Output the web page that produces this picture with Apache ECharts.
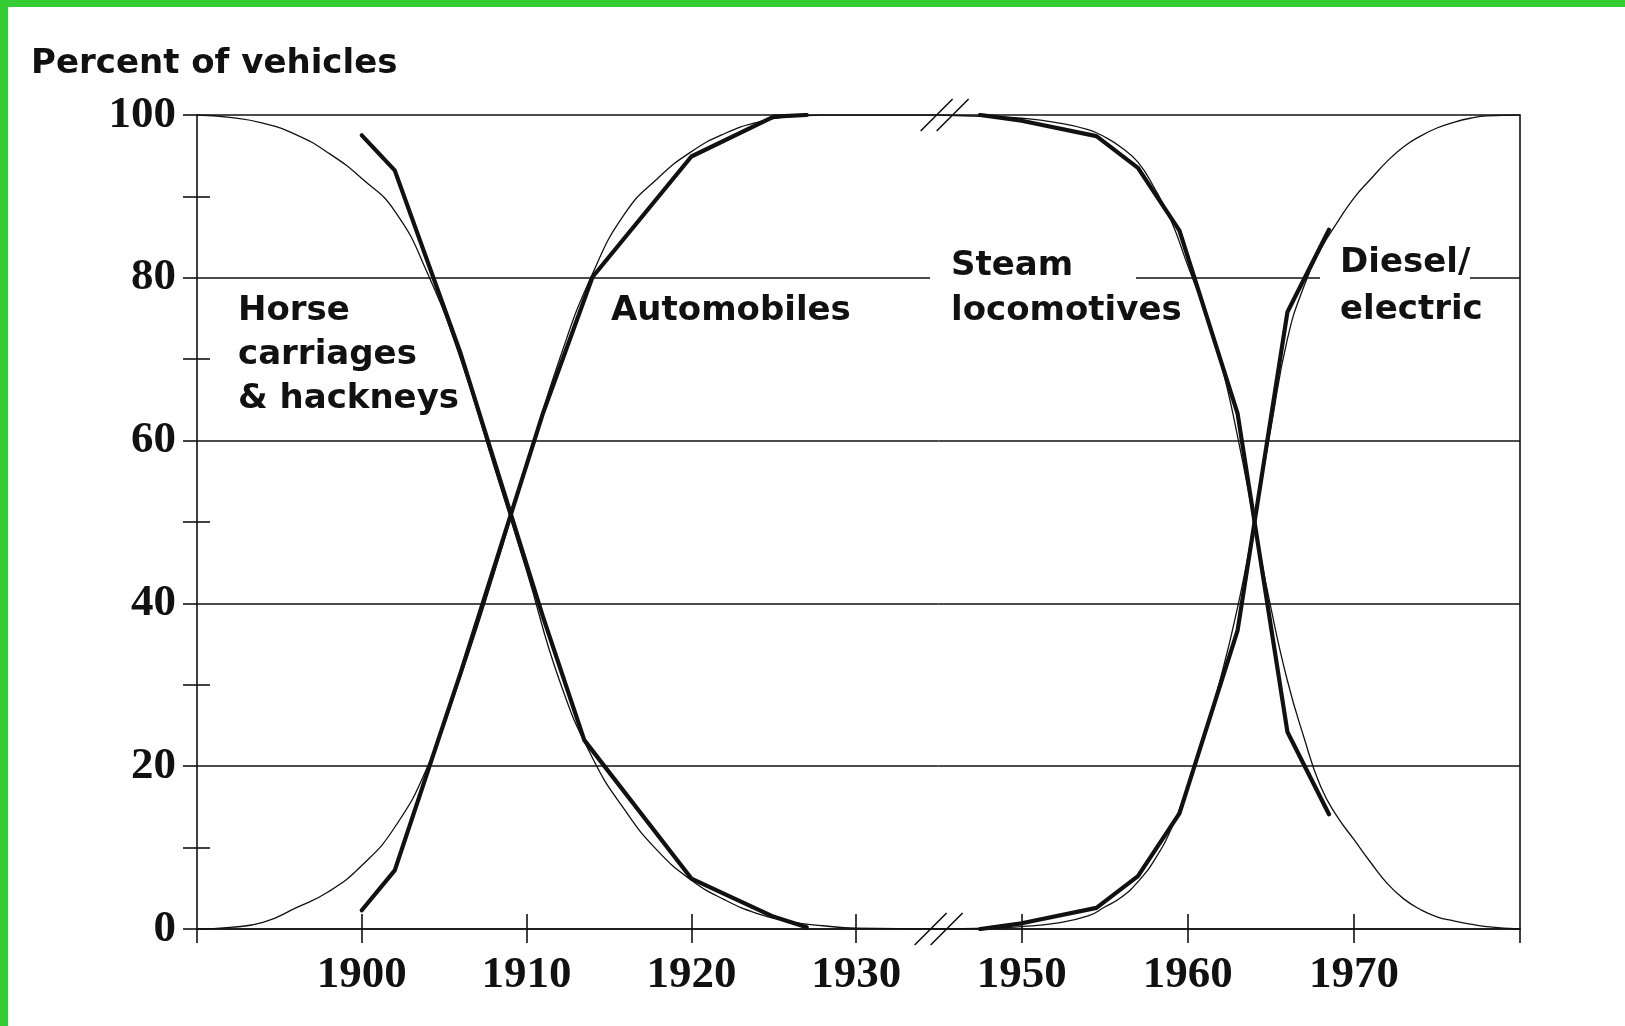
<!DOCTYPE html>
<html>
<head>
<meta charset="utf-8">
<title>Percent of vehicles</title>
<script src="https://cdn.jsdelivr.net/npm/echarts@6.0.0/dist/echarts.min.js"></script>
<style>
  html, body { margin: 0; padding: 0; background: #fff; }
  #wrap { position: relative; width: 1625px; height: 1026px; }
  #chart { position: absolute; left: 0; top: 0; width: 1625px; height: 1026px; }
  .frame { position: absolute; background: #33cc33; }
</style>
</head>
<body>
<div id="wrap">
  <div id="chart"></div>
  <div class="frame" style="left:0;top:0;width:1625px;height:7px;"></div>
  <div class="frame" style="left:0;top:0;width:8px;height:1026px;"></div>
</div>
<script>
// road: horse carriages vs automobiles (thick = observed, thin = fitted curve)
const horseYears = [1900, 1902, 1906, 1911, 1913.5, 1920, 1925, 1927];
const horseShare = [97.5, 93.2, 70.7, 38.3, 23.2, 6.2, 1.5, 0.2];
const autoYears = [1900, 1902, 1906, 1911, 1914, 1920, 1925, 1927];
const autoShare = [2.3, 7.2, 31.5, 63.4, 80.1, 94.9, 99.8, 100];

const roadFitYears = [1890, 1892, 1894, 1896, 1898, 1900, 1902, 1904, 1906, 1908, 1910,
  1912, 1914, 1916, 1918, 1920, 1922, 1924, 1926, 1928, 1930, 1935];
const horseFit = [100, 99.7, 99.0, 97.6, 95.3, 92.2, 88.2, 80.5, 70, 57, 44,
  30.5, 21, 14.5, 9.5, 6.0, 3.6, 1.9, 0.9, 0.4, 0.1, 0];
const autoFit = [0, 0.2, 0.8, 2.6, 4.6, 7.8, 12.5, 20, 31, 43.5, 57,
  70, 80.5, 88, 92.3, 95.5, 97.7, 99.1, 99.8, 100, 100, 100];

// rail: steam vs diesel/electric locomotives
const railYears = [1947.5, 1950, 1954.5, 1957, 1959.5, 1963, 1966, 1968.5];
const steamShare = [100, 99.3, 97.4, 93.5, 85.8, 63.3, 24.2, 14.1];
const dieselShare = [0, 0.7, 2.6, 6.5, 14.2, 36.7, 75.8, 85.9];

const railFitYears = [1945, 1948, 1950, 1952, 1954, 1955, 1956, 1957, 1958, 1959, 1960,
  1961, 1962, 1963, 1964, 1965, 1966, 1967, 1968, 1969, 1970, 1971, 1972, 1973,
  1974, 1975, 1976, 1977, 1978, 1980];
const steamFit = [100, 99.8, 99.6, 99.1, 98.2, 97.3, 96.0, 94.2, 91.0, 87.0, 81.5,
  76, 69.5, 60.5, 50, 39.5, 30.5, 23.5, 17.5, 13.8, 11.0, 8.2, 5.6, 3.7,
  2.4, 1.5, 1.0, 0.6, 0.3, 0];
const dieselFit = [0, 0.1, 0.3, 0.7, 1.6, 2.7, 3.9, 5.8, 8.5, 12.3, 17.5,
  24, 31, 39.5, 50, 61.5, 72.5, 79, 83.5, 86.8, 89.8, 92.1, 94.3, 96.1,
  97.4, 98.4, 99.1, 99.6, 99.9, 100];

// axes
const yMinorTicks = [10, 30, 50, 70, 90];
const leftYearTicks = [1890, 1900, 1910, 1920, 1930];
const leftYearLabels = [1900, 1910, 1920, 1930];
const rightYearTicks = [1950, 1960, 1970, 1980];
const rightYearLabels = [1950, 1960, 1970];
const breakMarks = [[1935, 0], [1935, 100]];

const INK = '#111';
const pairs = (xs, ys) => xs.map((x, i) => [x, ys[i]]);
const labelFont = { color: INK, fontFamily: 'Liberation Serif', fontWeight: 'bold', fontSize: 45 };
const axisLine = { color: INK, width: 1.6 };

function curve(xs, ys, side, heavy) {
  return {
    type: 'line',
    xAxisIndex: side, yAxisIndex: side ? 3 : 0,
    data: pairs(xs, ys),
    symbol: 'none',
    smooth: heavy ? false : 0.5,
    silent: true,
    z: heavy ? 4 : 3,
    lineStyle: { color: INK, width: heavy ? 4.2 : 1.3, cap: 'round', join: 'round' }
  };
}

function yearAxis(grid, min, max, ticks, labels) {
  return {
    type: 'value', gridIndex: grid, position: 'bottom', min: min, max: max,
    axisLine: { show: true, onZero: false, lineStyle: axisLine },
    axisTick: { show: true, length: 14, customValues: ticks, lineStyle: axisLine },
    axisLabel: Object.assign({ margin: 24, customValues: labels, formatter: v => String(v) }, labelFont),
    splitLine: { show: false }
  };
}

function innerTicks(grid, min, max, ticks) {
  return {
    type: 'value', gridIndex: grid, position: 'bottom', min: min, max: max,
    axisLine: { show: false },
    axisTick: { show: true, inside: true, length: 15, customValues: ticks, lineStyle: axisLine },
    axisLabel: { show: false },
    splitLine: { show: false }
  };
}

function minorTicks(inside, len) {
  return {
    type: 'value', gridIndex: 0, position: 'left', min: 0, max: 100,
    axisLine: { show: false },
    axisTick: { show: true, inside: inside, length: len, customValues: yMinorTicks, lineStyle: axisLine },
    axisLabel: { show: false },
    splitLine: { show: false }
  };
}

const chart = echarts.init(document.getElementById('chart'));

const option = {
  animation: false,
  backgroundColor: '#fff',
  grid: [
    { left: 197, top: 115, width: 741.6, bottom: 97, containLabel: false, outerBoundsMode: 'none' },
    { left: 938.6, top: 115, right: 105, bottom: 97, containLabel: false, outerBoundsMode: 'none' }
  ],
  xAxis: [
    yearAxis(0, 1890, 1935, leftYearTicks, leftYearLabels),
    yearAxis(1, 1945, 1980, rightYearTicks, rightYearLabels),
    innerTicks(0, 1890, 1935, leftYearLabels),
    innerTicks(1, 1945, 1980, rightYearLabels)
  ],
  yAxis: [
    {
      type: 'value', gridIndex: 0, position: 'left', min: 0, max: 100, interval: 20,
      axisLine: { show: true, onZero: false, lineStyle: axisLine },
      axisTick: { show: true, length: 14, lineStyle: axisLine },
      axisLabel: Object.assign({ margin: 21 }, labelFont),
      splitLine: { show: true, lineStyle: axisLine }
    },
    minorTicks(false, 14),
    minorTicks(true, 13),
    {
      type: 'value', gridIndex: 1, position: 'right', min: 0, max: 100, interval: 20,
      axisLine: { show: true, onZero: false, lineStyle: axisLine },
      axisTick: { show: false },
      axisLabel: { show: false },
      splitLine: { show: true, lineStyle: axisLine }
    }
  ],
  series: [
    curve(roadFitYears, horseFit, 0, false),
    curve(roadFitYears, autoFit, 0, false),
    curve(horseYears, horseShare, 0, true),
    curve(autoYears, autoShare, 0, true),
    curve(railFitYears, steamFit, 1, false),
    curve(railFitYears, dieselFit, 1, false),
    curve(railYears, steamShare, 1, true),
    curve(railYears, dieselShare, 1, true),
    {
      // "//" axis-break marks
      type: 'custom', xAxisIndex: 0, yAxisIndex: 0, data: breakMarks,
      clip: false, silent: true, z: 6,
      renderItem: function (params, api) {
        const p = api.coord([api.value(0), api.value(1)]);
        const shift = api.value(1) > 50 ? 6 : 0;
        return {
          type: 'group',
          children: [-8, 8].map(function (dx) {
            const cx = p[0] + dx + shift;
            return {
              type: 'line',
              shape: { x1: cx - 16, y1: p[1] + 16, x2: cx + 16, y2: p[1] - 16 },
              style: { stroke: INK, lineWidth: 1.6 }
            };
          })
        };
      }
    }
  ]
};

chart.setOption(option);

// text annotations, placed against the 80% line
const y80 = chart.convertToPixel({ yAxisIndex: 0 }, 80);
const bold = 'bold 34px "DejaVu Sans"';
function txt(x, baseline, s, font) {
  return { type: 'text', z: 7, silent: true,
    style: { x: x, y: baseline - 10, text: s, font: font || bold, fill: INK, textVerticalAlign: 'middle' } };
}
function gap(x1, x2) {
  return { type: 'rect', z: 1, silent: true, shape: { x: x1, y: y80 - 5, width: x2 - x1, height: 10 },
    style: { fill: '#fff' } };
}
chart.setOption({
  graphic: [
    gap(930, 1136),
    gap(1320, 1470),
    txt(31, 74, 'Percent of vehicles', 'bold 34px "DejaVu Sans"'),
    txt(238, 321, 'Horse'),
    txt(238, 365, 'carriages'),
    txt(238, 409, '& hackneys'),
    txt(611, 321, 'Automobiles'),
    txt(951, 276, 'Steam'),
    txt(951, 321, 'locomotives'),
    txt(1340, 273, 'Diesel/'),
    txt(1340, 320, 'electric')
  ]
});
</script>
</body>
</html>
